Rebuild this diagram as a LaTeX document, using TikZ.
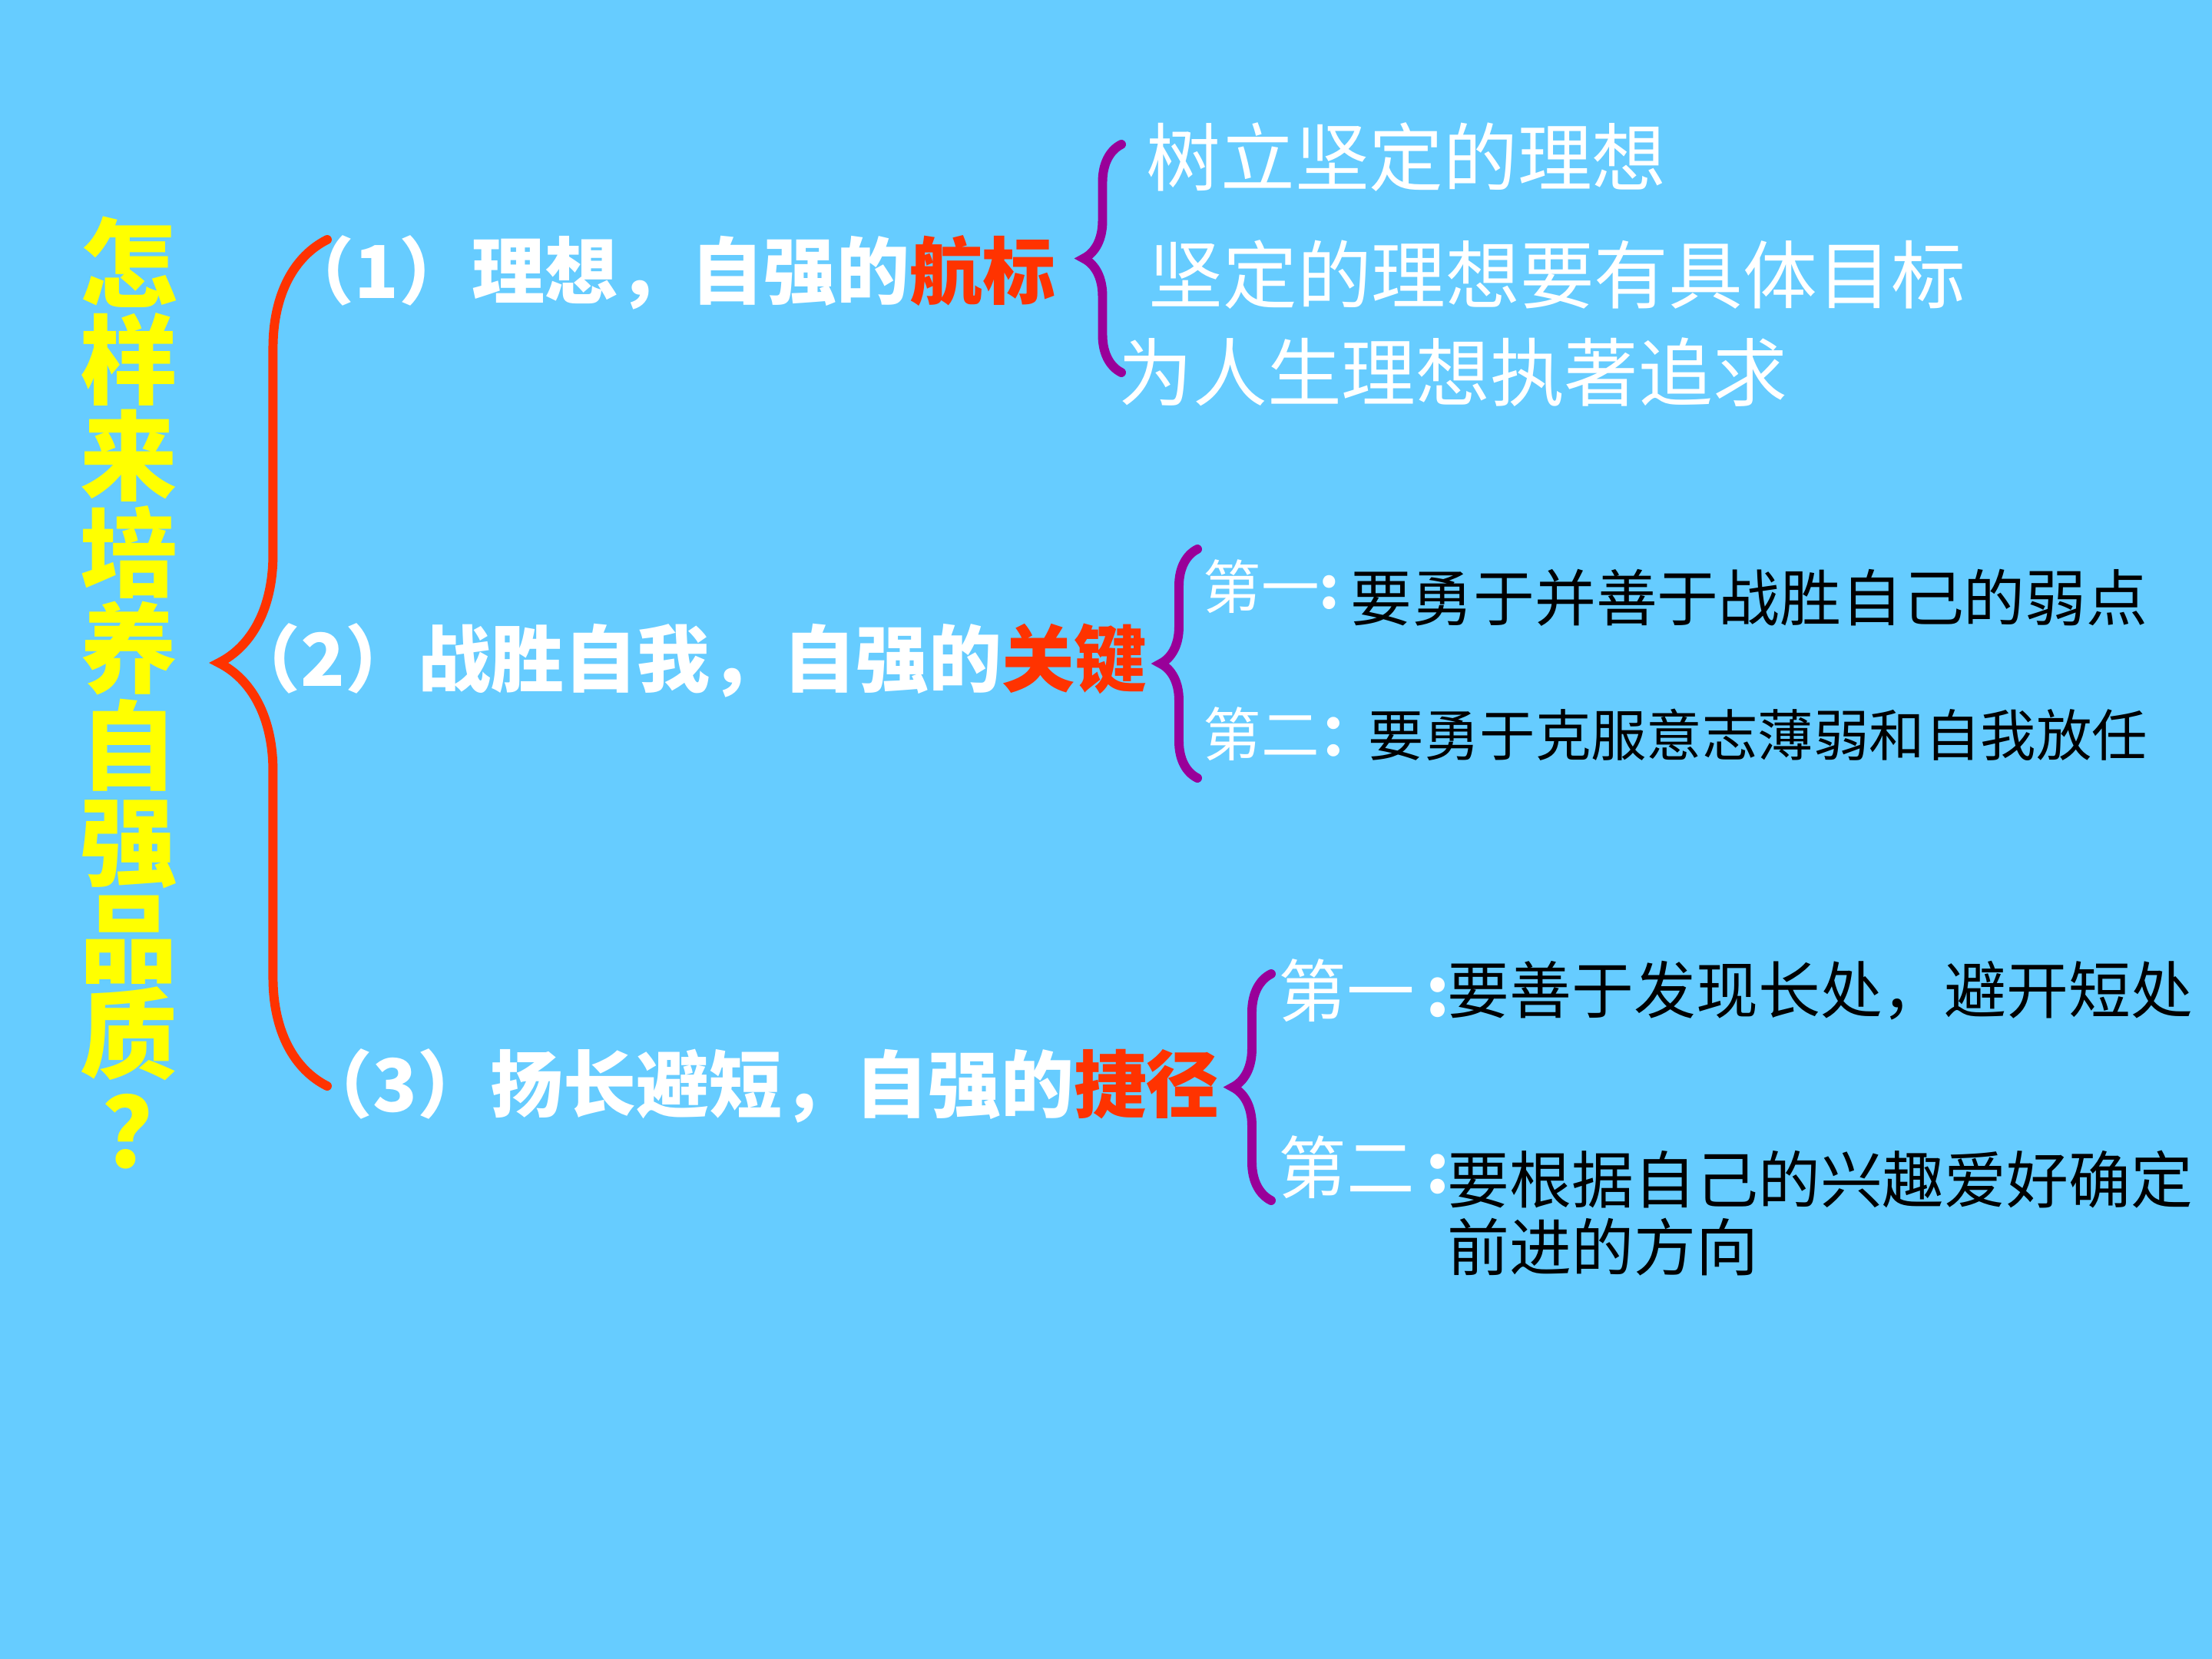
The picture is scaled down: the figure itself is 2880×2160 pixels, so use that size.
\documentclass[tikz,border=0pt]{standalone}
\usepackage{fontspec}
\setmainfont{Noto Sans CJK SC}
\usetikzlibrary{decorations.pathreplacing}

\definecolor{slideblue}{RGB}{102,204,255}
\definecolor{titleyellow}{RGB}{255,255,0}
\definecolor{keyred}{RGB}{255,51,0}
\definecolor{bracepurple}{RGB}{153,0,153}

\begin{document}
\begin{tikzpicture}[
    x=0.01cm, y=-0.01cm,
    title/.style={font=\bfseries\fontsize{36}{35.7}\selectfont, text=titleyellow, align=center, inner sep=0pt},
    item/.style={font=\bfseries\fontsize{27}{27}\selectfont, text=white, anchor=west, inner sep=0pt},
    idea/.style={font=\fontsize{27.5}{27.5}\selectfont, text=white, anchor=west, inner sep=0pt},
    order/.style={font=\fontsize{#1}{#1}\selectfont, text=white, anchor=west, inner sep=0pt},
    point/.style={font=\fontsize{#1}{25}\selectfont, text=black, anchor=west, inner sep=0pt, align=left},
    redbrace/.style={decorate, decoration={brace, amplitude=#1}, draw=keyred, line width=3.4pt, line cap=round},
    purplebrace/.style={decorate, decoration={brace, amplitude=#1}, draw=bracepurple, line width=3.4pt, line cap=round}
]

% Background
\fill[slideblue] (0,0) rectangle (2880,2160);

% Title
\node[title] (question) at (168,902) {怎\\样\\来\\培\\养\\自\\强\\品\\质\\\hspace*{0.45em}？};

% Three ways
\node[item] (ideal) at (366,355) {（1）理想，自强的{\color{keyred}航标}};
\node[item] (self) at (296,860) {（2）战胜自我，自强的{\color{keyred}关键}};
\node[item] (merit) at (390,1414) {（3）扬长避短，自强的{\color{keyred}捷径}};
\draw[redbrace=1.41cm] (426,1414) -- (426,312);

% Ideal
\node[idea] (ideal a) at (1492,205) {树立坚定的理想};
\node[idea] (ideal b) at (1495,358) {坚定的理想要有具体目标};
\node[idea] (ideal c) at (1456,485) {为人生理想执著追求};
\draw[purplebrace=0.49cm] (1460,485) -- (1460,188);

% Self
\node[order=21.5] (self first) at (1566,764) {第一\textbf{:}};
\node[point=22.7] (self a) at (1758,778) {要勇于并善于战胜自己的弱点};
\node[order=21.5] (self second) at (1566,956) {第二\textbf{：}};
\node[point=20.6] (self b) at (1781,957) {要勇于克服意志薄弱和自我放任};
\draw[purplebrace=0.48cm] (1559,1013) -- (1559,715);

% Merit
\node[order=25.2] (merit first) at (1664,1290) {第一\,\textbf{:}};
\node[point=23] (merit a) at (1884,1290) {要善于发现长处，避开短处};
\node[order=25.2] (merit second) at (1664,1520) {第二\,\textbf{:}};
\node[point=23, anchor=north west] (merit b) at (1884,1497) {要根据自己的兴趣爱好确定\\前进的方向};
\draw[purplebrace=0.5cm] (1655,1563) -- (1655,1268);

\end{tikzpicture}
\end{document}
